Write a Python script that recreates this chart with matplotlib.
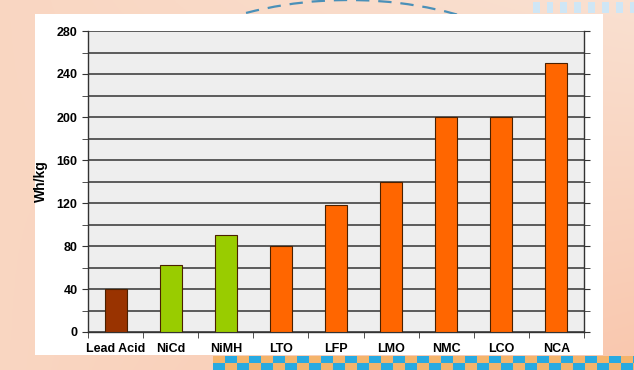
import matplotlib.pyplot as plt
import numpy as np
from matplotlib.patches import Rectangle, Arc

plt.rcParams['font.family'] = ['Liberation Sans', 'DejaVu Sans']

chemistries = ['Lead Acid', 'NiCd', 'NiMH', 'LTO', 'LFP', 'LMO', 'NMC', 'LCO', 'NCA']
energy_density = [40, 62, 90, 80, 118, 140, 200, 200, 250]
bar_colors = ['#993300', '#99cc00', '#99cc00', '#ff6600', '#ff6600',
              '#ff6600', '#ff6600', '#ff6600', '#ff6600']
y_ticks = [0, 40, 80, 120, 160, 200, 240, 280]

fig = plt.figure(figsize=(6.34, 3.7), dpi=100)

# decorative backdrop
bg = fig.add_axes([0, 0, 1, 1])
grad = np.linspace(0, 1, 256)
gx, gy = np.meshgrid(grad, grad)
img = np.zeros((256, 256, 3))
img[..., 0] = 0.98
img[..., 1] = 0.84 - 0.10 * gx * (1 - gy) + 0.04 * gx
img[..., 2] = 0.76 - 0.14 * gx * (1 - gy) + 0.06 * gx
bg.imshow(np.clip(img, 0, 1), extent=[0, 1, 0, 1], aspect='auto', origin='lower')
bg.add_patch(Arc((0.55, 0.35), 1.0, 1.3, theta1=60, theta2=160,
                 color='#4a90b8', lw=1.6, ls=(0, (6, 4))))
for i in range(14):
    bg.add_patch(Rectangle((0.84 + i * 0.022, 0.965), 0.011, 0.03,
                           color='#cfe6f5', lw=0))
sq = 12 / 634
row = 7 / 370
for i in range(36):
    for j in range(2):
        c = '#29aae1' if (i + j) % 2 == 0 else '#f4b46c'
        bg.add_patch(Rectangle((213 / 634 + i * sq, j * row), sq, row,
                               color=c, lw=0))
bg.add_patch(Rectangle((35 / 634, 15 / 370), 568 / 634, 341 / 370,
                       color='white', lw=0))
bg.set_xlim(0, 1)
bg.set_ylim(0, 1)
bg.axis('off')

ax = fig.add_axes([88 / 634, 1 - 332 / 370, 496 / 634, 301 / 370])
ax.set_facecolor('#eeeeee')
x = np.arange(len(chemistries))
ax.bar(x, energy_density, width=0.4, color=bar_colors, edgecolor='#4a2000',
       linewidth=0.8, zorder=3)

ax.set_xlim(-0.5, len(chemistries) - 0.5)
ax.set_ylim(0, 280)
ax.set_yticks(y_ticks)
ax.set_yticks(np.arange(0, 281, 20), minor=True)
ax.yaxis.grid(True, which='both', color='#333333', linewidth=1.1, zorder=1)
ax.set_axisbelow(True)
ax.set_xticks(x)
ax.set_xticklabels(chemistries, fontsize=9, fontweight='bold')
ax.tick_params(axis='x', length=0, pad=8)
ax.set_xticks(np.arange(-0.5, len(chemistries), 1), minor=True)
ax.tick_params(axis='x', which='minor', length=4, color='#333333')
ax.tick_params(axis='y', which='both', length=4, color='#333333', labelsize=9,
               right=True)
for lbl in ax.get_yticklabels():
    lbl.set_fontweight('bold')
ax.set_ylabel('Wh/kg', fontsize=10, fontweight='bold', labelpad=6)

ax.spines['top'].set_visible(False)
for s in ['left', 'right', 'bottom']:
    ax.spines[s].set_color('#333333')
    ax.spines[s].set_linewidth(1.0)

fig.savefig('out.png', dpi=100)
